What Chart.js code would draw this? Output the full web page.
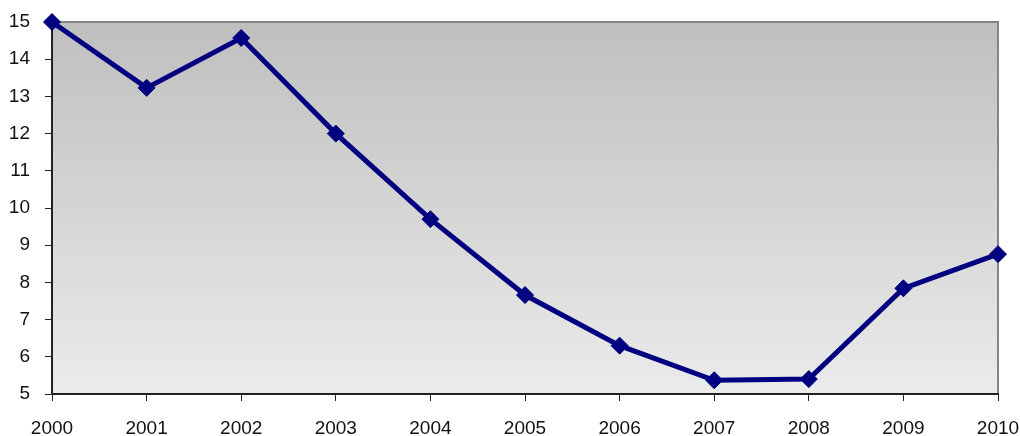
<!DOCTYPE html>
<html>
<head>
<meta charset="utf-8">
<script src="https://cdn.jsdelivr.net/npm/chart.js@4/dist/chart.umd.min.js"></script>
<style>
  html, body { margin: 0; padding: 0; background: #ffffff; overflow: hidden; }
  canvas { display: block; }
</style>
</head>
<body>
<canvas id="chart" width="1020" height="436"></canvas>
<script>
// Yearly values, 2000–2010
const years = ['2000', '2001', '2002', '2003', '2004', '2005', '2006', '2007', '2008', '2009', '2010'];
const values = [15.0, 13.23, 14.57, 12.0, 9.7, 7.66, 6.3, 5.37, 5.4, 7.84, 8.76];
const yTicks = [5, 6, 7, 8, 9, 10, 11, 12, 13, 14, 15];

const lineColor = '#000080';
const labelFont = { family: "'Liberation Sans', Arial, sans-serif", size: 19 };

// Plot-area fill: grey gradient plus a grey frame on the top and right edges
const plotBackground = {
  id: 'plotBackground',
  beforeDraw(chart) {
    const { ctx, chartArea: a } = chart;
    const g = ctx.createLinearGradient(0, a.top, 0, a.bottom);
    g.addColorStop(0, '#bfbfbf');
    g.addColorStop(1, '#ebebeb');
    ctx.save();
    ctx.fillStyle = g;
    ctx.fillRect(a.left, a.top, a.right - a.left, a.bottom - a.top);
    ctx.strokeStyle = '#858585';
    ctx.lineWidth = 2;
    ctx.beginPath();
    ctx.moveTo(a.left, a.top);
    ctx.lineTo(a.right, a.top);
    ctx.lineTo(a.right, a.bottom);
    ctx.stroke();
    ctx.restore();
  }
};

new Chart(document.getElementById('chart'), {
  type: 'line',
  data: {
    labels: years,
    datasets: [{
      data: values,
      borderColor: lineColor,
      backgroundColor: lineColor,
      borderWidth: 5,
      pointStyle: 'rectRot',
      pointRadius: 8.5,
      pointBorderWidth: 1,
      pointBackgroundColor: lineColor,
      pointBorderColor: lineColor,
      tension: 0,
      clip: false
    }]
  },
  options: {
    responsive: false,
    animation: false,
    devicePixelRatio: 1,
    layout: { padding: { top: 22, right: 22, left: 0, bottom: 0 } },
    plugins: { legend: { display: false }, tooltip: { enabled: false } },
    scales: {
      x: {
        offset: false,
        grid: { drawOnChartArea: false, drawTicks: true, tickLength: 7, tickColor: '#222222' },
        border: { display: true, color: '#222222', width: 2 },
        ticks: {
          color: '#111111',
          font: labelFont,
          padding: 16,
          maxRotation: 0,
          autoSkip: false
        },
        afterFit(scale) {
          scale.height = 42;
          scale.paddingLeft = 0;
          scale.paddingRight = 0;
        }
      },
      y: {
        min: 5,
        max: 15,
        afterBuildTicks(scale) { scale.ticks = yTicks.map(v => ({ value: v })); },
        grid: { drawOnChartArea: false, drawTicks: true, tickLength: 7, tickColor: '#222222' },
        border: { display: true, color: '#222222', width: 2 },
        ticks: {
          color: '#111111',
          font: labelFont,
          padding: 15,
          autoSkip: false
        },
        afterFit(scale) {
          scale.width = 52;
          scale.paddingTop = 0;
          scale.paddingBottom = 0;
        }
      }
    }
  },
  plugins: [plotBackground]
});
</script>
</body>
</html>
